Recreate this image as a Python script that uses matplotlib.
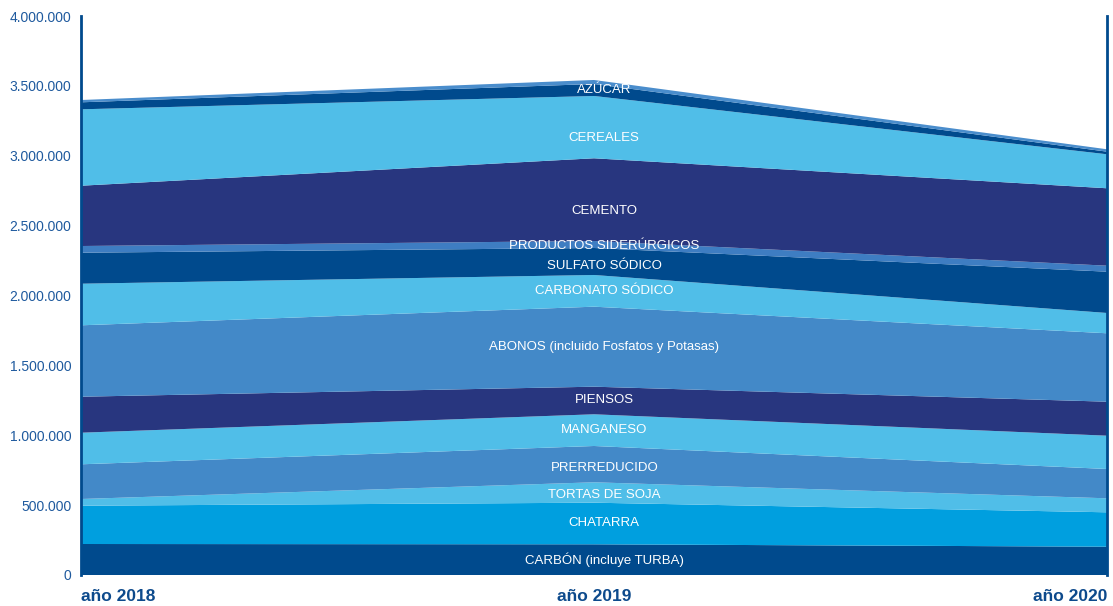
import numpy as np
import matplotlib.pyplot as plt

plt.rcParams['font.family'] = ['Liberation Sans', 'DejaVu Sans']

years = [2018, 2019, 2020]
year_labels = ["año 2018", "año 2019", "año 2020"]

# capas de abajo arriba (toneladas)
categorias = ["CARBÓN (incluye TURBA)", "CHATARRA", "TORTAS DE SOJA", "PRERREDUCIDO",
              "MANGANESO", "PIENSOS", "ABONOS (incluido Fosfatos y Potasas)",
              "CARBONATO SÓDICO", "SULFATO SÓDICO", "PRODUCTOS SIDERÚRGICOS",
              "CEMENTO", "CEREALES", "AZÚCAR", None]

carbon = [221800, 219700, 202500]
chatarra = [274100, 297700, 246200]
tortas_soja = [47900, 146000, 100200]
prerreducido = [248300, 259800, 209700]
manganeso = [226100, 226800, 238300]
piensos = [257600, 197500, 243300]
abonos = [510900, 572500, 489500]
carbonato = [297700, 226800, 145300]
sulfato = [221800, 193200, 295500]
siderurgicos = [47900, 50100, 42900]
cemento = [431500, 591800, 553900]
cereales = [546700, 445800, 243300]
azucar = [50100, 85900, 18600]
otros = [16500, 28600, 17200]

series = [carbon, chatarra, tortas_soja, prerreducido, manganeso, piensos, abonos,
          carbonato, sulfato, siderurgicos, cemento, cereales, azucar, otros]

colores = ["#004a8d", "#009fdf", "#50bee8", "#4389c8", "#50bee8", "#28367f", "#4389c8",
           "#50bee8", "#004a8d", "#3e7dc2", "#28367f", "#50bee8", "#004a8d", "#4a8dcc"]

# pequeño ajuste vertical de las etiquetas (puntos, negativo = abajo)
nudge = [0, 0, -2, -3, 0, 0, 0, 0, -3, -1, -8, -8, 0, 0]

fig = plt.figure(figsize=(11.13, 6.06), dpi=100)
ax = fig.add_axes([81 / 1113, 1 - 575 / 606, (1107 - 81) / 1113, (575 - 16) / 606])

ax.stackplot(years, series, colors=colores, linewidth=0)

ax.set_xlim(2018, 2020)
ax.set_ylim(0, 4000000)

# etiquetas en el centro de cada capa en 2019
acum = np.cumsum(np.array(series), axis=0)
for i, nombre in enumerate(categorias):
    if nombre is None:
        continue
    top = acum[i][1]
    bottom = acum[i - 1][1] if i > 0 else 0
    ax.annotate(nombre, (2019.02, (top + bottom) / 2), xytext=(0, nudge[i]),
                textcoords='offset points', ha='center', va='center',
                color='white', fontsize=9.5)

ticks = np.arange(0, 4000001, 500000)
ax.set_yticks(ticks)
ax.set_yticklabels([f"{t:,.0f}".replace(",", ".") for t in ticks])
ax.tick_params(axis='y', length=0, pad=7, labelsize=10, labelcolor='#1f5a9e')
ax.set_xticks([])

for s in ['top', 'bottom']:
    ax.spines[s].set_visible(False)
for s in ['left', 'right']:
    ax.spines[s].set_color('#004a8d')
    ax.spines[s].set_linewidth(2)

tr = ax.get_xaxis_transform()
aligns = ['left', 'center', 'right']
for yr, lab, al in zip(years, year_labels, aligns):
    ax.text(yr, -0.038, lab, transform=tr, ha=al, va='center',
            fontsize=12.5, fontweight='bold', color='#0d4a8c')

fig.savefig("out.png", dpi=100)
